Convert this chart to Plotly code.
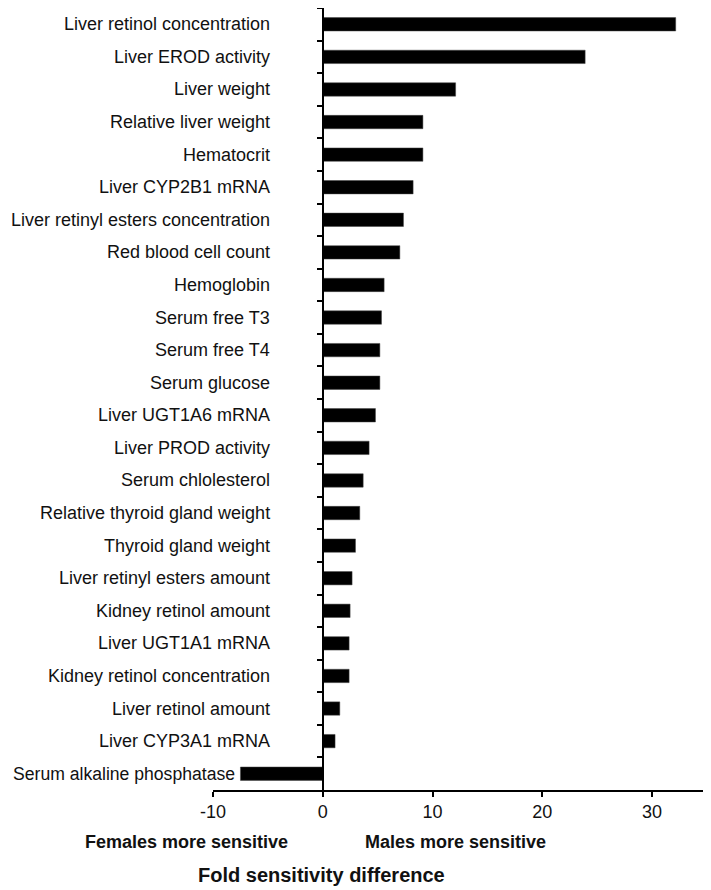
import plotly.graph_objects as go

categories = [
    "Liver retinol concentration",
    "Liver EROD activity",
    "Liver weight",
    "Relative liver weight",
    "Hematocrit",
    "Liver CYP2B1 mRNA",
    "Liver retinyl esters concentration",
    "Red blood cell count",
    "Hemoglobin",
    "Serum free T3",
    "Serum free T4",
    "Serum glucose",
    "Liver UGT1A6 mRNA",
    "Liver PROD activity",
    "Serum chlolesterol",
    "Relative thyroid gland weight",
    "Thyroid gland weight",
    "Liver retinyl esters amount",
    "Kidney retinol amount",
    "Liver UGT1A1 mRNA",
    "Kidney retinol concentration",
    "Liver retinol amount",
    "Liver CYP3A1 mRNA",
    "Serum alkaline phosphatase",
]
values = [32.15, 23.9, 12.1, 9.12, 9.12, 8.23, 7.35, 7.02, 5.59, 5.35, 5.2, 5.2,
          4.8, 4.22, 3.68, 3.37, 2.98, 2.67, 2.49, 2.4, 2.4, 1.55, 1.12, -7.5]
x_ticks = [-10, 0, 10, 20, 30]

FONT = "Liberation Sans, Arial, sans-serif"

fig = go.Figure()
fig.add_trace(go.Bar(
    y=categories, x=values, orientation="h",
    marker=dict(color="black", line=dict(color="#444", width=0.5)),
    width=0.41,
))

# page body adds an 8px offset; figure sized so it ends at the window edge
W, H = 703, 882
ml, mr, mt, mb = 205, 4, 0, 100
pw = W - ml - mr
ph = H - mt - mb

annotations = []
for i, c in enumerate(categories):
    last = i == len(categories) - 1
    right_px = 264 if not last else 229
    annotations.append(dict(
        text=c, x=(right_px - ml) / pw, xref="paper", xanchor="right",
        y=c, yref="y", yanchor="middle", showarrow=False,
        font=dict(family=FONT, size=18 if not last else 17.6, color="#111"),
    ))

def py(px):
    return (H - mb - px) / ph

annotations.append(dict(text="<b>Females more sensitive</b>", x=(178 - ml) / pw, xref="paper",
                        xanchor="center", y=py(834), yref="paper", yanchor="middle",
                        showarrow=False, font=dict(family=FONT, size=18, color="#111")))
annotations.append(dict(text="<b>Males more sensitive</b>", x=(447 - ml) / pw, xref="paper",
                        xanchor="center", y=py(834), yref="paper", yanchor="middle",
                        showarrow=False, font=dict(family=FONT, size=18, color="#111")))
annotations.append(dict(text="<b>Fold sensitivity difference</b>", x=(313 - ml) / pw, xref="paper",
                        xanchor="center", y=py(867), yref="paper", yanchor="middle",
                        showarrow=False, font=dict(family=FONT, size=20, color="#111")))

fig.update_layout(
    width=W, height=H,
    margin=dict(l=ml, r=mr, t=mt, b=mb, pad=0),
    plot_bgcolor="white", paper_bgcolor="white",
    showlegend=False,
    annotations=annotations,
    xaxis=dict(
        range=[-10, 35], tickvals=x_ticks, ticktext=[str(v) for v in x_ticks],
        showgrid=False, zeroline=False,
        showline=True, linecolor="black", linewidth=1.5,
        ticks="outside", ticklen=5, tickwidth=1.5, tickcolor="black",
        tickfont=dict(family=FONT, size=18, color="#111"),
    ),
    yaxis=dict(
        categoryorder="array", categoryarray=categories,
        autorange="reversed",
        showgrid=False, zeroline=False,
        showline=True, linecolor="black", linewidth=1.5,
        ticks="outside", ticklen=5, tickwidth=1.5, tickcolor="black",
        tickson="boundaries", showticklabels=False,
        anchor="free", position=10 / 45,
    ),
)

fig.write_html("out.html")
